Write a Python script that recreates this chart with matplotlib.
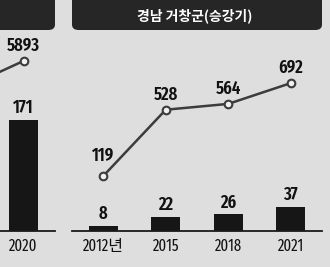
import matplotlib
matplotlib.use("Agg")
import matplotlib.pyplot as plt
from matplotlib.patches import FancyBboxPatch
import numpy as np

# ---- data ----
left_categories = ["", "2020"]
left_bars = [np.nan, 171]
left_line = [4890, 5893]

right_title = "경남 거창군(승강기)"
right_categories = ["2012년", "2015", "2018", "2021"]
right_bars = [8, 22, 26, 37]
right_line = [119, 528, 564, 692]

BG = "#dedede"
DARK = "#262626"
LINE = "#3c3c3c"
NUMFONT = ["Fira Sans Extra Condensed", "Noto Sans CJK KR", "DejaVu Sans"]

W, H = 330, 267
fig = plt.figure(figsize=(W / 100, H / 100), dpi=100)
fig.patch.set_facecolor(BG)

def px_axes(x0, x1, ytop, ybot):
    return fig.add_axes([x0 / W, (H - ybot) / H, (x1 - x0) / W, (ybot - ytop) / H])

def panel(ax, cats, bars, line, line_lim, bar_lim, xlim):
    ax.set_facecolor("none")
    x = np.arange(len(cats))
    ax.bar(x, bars, width=0.46, color="#161616", zorder=2)
    ax.set_xlim(*xlim)
    ax.set_ylim(*bar_lim)
    for s in ["top", "right", "left"]:
        ax.spines[s].set_visible(False)
    ax.spines["bottom"].set_linewidth(1.3)
    ax.spines["bottom"].set_color("#1a1a1a")
    ax.set_yticks([])
    ax.set_xticks(x)
    ax.set_xticklabels(cats, fontsize=11.5, family=NUMFONT, fontweight=400, color="#111111")
    ax.tick_params(axis="x", length=0, pad=5)
    for xi, v in zip(x, bars):
        if not np.isnan(v):
            ax.annotate(f"{v}", (xi, v), xytext=(0, 2), textcoords="offset points",
                        ha="center", va="bottom", fontsize=13, family=NUMFONT,
                        fontweight=600, color="#111111")
    ax2 = ax.twinx()
    ax2.set_ylim(*line_lim)
    ax2.axis("off")
    ax2.plot(x, line, color=LINE, lw=1.8, marker="o", markersize=5.5,
             markerfacecolor="#f0f0f0", markeredgecolor=LINE, markeredgewidth=1.5,
             zorder=3, clip_on=True)
    for i, (xi, v) in enumerate(zip(x, line)):
        if cats[i] == "":
            continue
        dy = 8 if i == 0 else 4.5
        ax2.annotate(f"{v}", (xi, v), xytext=(0, dy), textcoords="offset points",
                     ha="center", va="bottom", fontsize=13, family=NUMFONT,
                     fontweight=600, color="#111111")
    return ax2

# left (cropped) panel
axL = px_axes(-71, 55, 40, 231)
panel(axL, left_categories, left_bars, left_line, (0, 6620), (0, 294), (-0.5, 1.5))

# right panel
axR = px_axes(72, 322, 40, 231)
panel(axR, right_categories, right_bars, right_line, (-220, 958), (0, 294), (-0.5, 3.5))

# header boxes
for x0, x1 in [(-40, 55), (72, 322)]:
    box = FancyBboxPatch(((x0) / W, (H - 30) / H), (x1 - x0) / W, 40 / H,
                         boxstyle="round,pad=0,rounding_size=0.02",
                         transform=fig.transFigure, facecolor=DARK,
                         edgecolor="none", zorder=0)
    fig.patches.append(box)

fig.text(195 / W, (H - 16) / H, right_title, ha="center", va="center",
         color="white", fontsize=10, fontweight="bold",
         family=["Noto Sans CJK KR", "DejaVu Sans"])

fig.savefig("out.png", dpi=100, facecolor=BG)
